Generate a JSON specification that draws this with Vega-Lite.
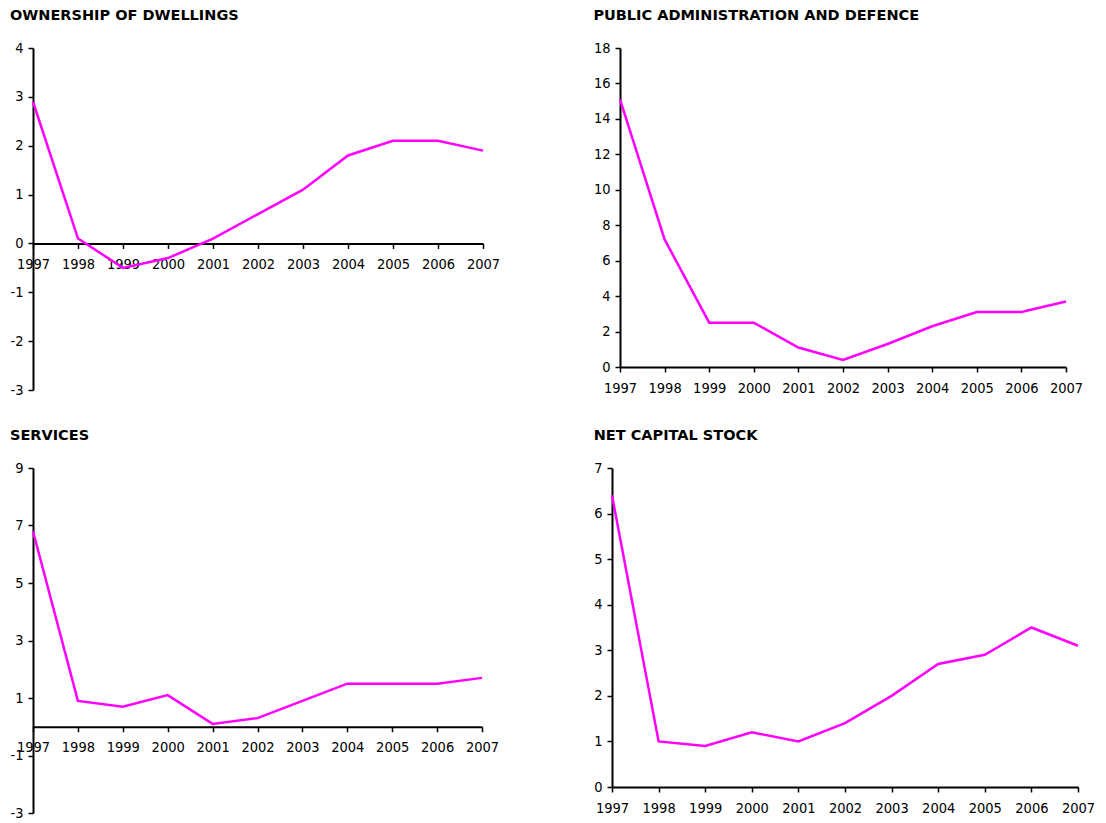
{
  "$schema": "https://vega.github.io/schema/vega-lite/v6.json",
  "padding": {"left": 9, "top": 7, "right": 5, "bottom": 5},
  "background": "white",
  "datasets": {
    "dwellings": [
      {"year": 1997, "value": 2.9}, {"year": 1998, "value": 0.1}, {"year": 1999, "value": -0.5},
      {"year": 2000, "value": -0.3}, {"year": 2001, "value": 0.1}, {"year": 2002, "value": 0.6},
      {"year": 2003, "value": 1.1}, {"year": 2004, "value": 1.8}, {"year": 2005, "value": 2.1},
      {"year": 2006, "value": 2.1}, {"year": 2007, "value": 1.9}
    ],
    "public": [
      {"year": 1997, "value": 15.1}, {"year": 1998, "value": 7.2}, {"year": 1999, "value": 2.5},
      {"year": 2000, "value": 2.5}, {"year": 2001, "value": 1.1}, {"year": 2002, "value": 0.4},
      {"year": 2003, "value": 1.3}, {"year": 2004, "value": 2.3}, {"year": 2005, "value": 3.1},
      {"year": 2006, "value": 3.1}, {"year": 2007, "value": 3.7}
    ],
    "services": [
      {"year": 1997, "value": 6.8}, {"year": 1998, "value": 0.9}, {"year": 1999, "value": 0.7},
      {"year": 2000, "value": 1.1}, {"year": 2001, "value": 0.1}, {"year": 2002, "value": 0.3},
      {"year": 2003, "value": 0.9}, {"year": 2004, "value": 1.5}, {"year": 2005, "value": 1.5},
      {"year": 2006, "value": 1.5}, {"year": 2007, "value": 1.7}
    ],
    "capital": [
      {"year": 1997, "value": 6.4}, {"year": 1998, "value": 1.0}, {"year": 1999, "value": 0.9},
      {"year": 2000, "value": 1.2}, {"year": 2001, "value": 1.0}, {"year": 2002, "value": 1.4},
      {"year": 2003, "value": 2.0}, {"year": 2004, "value": 2.7}, {"year": 2005, "value": 2.9},
      {"year": 2006, "value": 3.5}, {"year": 2007, "value": 3.1}
    ]
  },
  "columns": 2,
  "align": "none",
  "spacing": {"column": 93, "row": 30},
  "concat": [
    {
      "title": "OWNERSHIP OF DWELLINGS",
      "width": 450, "height": 342,
      "data": {"name": "dwellings"},
      "mark": "line",
      "encoding": {
        "x": {"field": "year", "type": "quantitative", "title": null,
              "scale": {"domain": [1997, 2007], "nice": false, "zero": false},
              "axis": {"values": [1997,1998,1999,2000,2001,2002,2003,2004,2005,2006,2007], "format": "d", "offset": -146.57}},
        "y": {"field": "value", "type": "quantitative", "title": null,
              "scale": {"domain": [-3, 4], "nice": false},
              "axis": {"values": [-3,-2,-1,0,1,2,3,4]}}
      }
    },
    {
      "title": "PUBLIC ADMINISTRATION AND DEFENCE",
      "width": 446, "height": 319,
      "data": {"name": "public"},
      "mark": "line",
      "encoding": {
        "x": {"field": "year", "type": "quantitative", "title": null,
              "scale": {"domain": [1997, 2007], "nice": false, "zero": false},
              "axis": {"values": [1997,1998,1999,2000,2001,2002,2003,2004,2005,2006,2007], "format": "d"}},
        "y": {"field": "value", "type": "quantitative", "title": null,
              "scale": {"domain": [0, 18], "nice": false},
              "axis": {"values": [0,2,4,6,8,10,12,14,16,18]}}
      }
    },
    {
      "title": "SERVICES",
      "width": 449, "height": 345,
      "data": {"name": "services"},
      "mark": "line",
      "encoding": {
        "x": {"field": "year", "type": "quantitative", "title": null,
              "scale": {"domain": [1997, 2007], "nice": false, "zero": false},
              "axis": {"values": [1997,1998,1999,2000,2001,2002,2003,2004,2005,2006,2007], "format": "d", "offset": -86.25}},
        "y": {"field": "value", "type": "quantitative", "title": null,
              "scale": {"domain": [-3, 9], "nice": false},
              "axis": {"values": [-3,-1,1,3,5,7,9]}}
      }
    },
    {
      "title": "NET CAPITAL STOCK",
      "width": 466, "height": 319,
      "data": {"name": "capital"},
      "mark": "line",
      "encoding": {
        "x": {"field": "year", "type": "quantitative", "title": null,
              "scale": {"domain": [1997, 2007], "nice": false, "zero": false},
              "axis": {"values": [1997,1998,1999,2000,2001,2002,2003,2004,2005,2006,2007], "format": "d"}},
        "y": {"field": "value", "type": "quantitative", "title": null,
              "scale": {"domain": [0, 7], "nice": false},
              "axis": {"values": [0,1,2,3,4,5,6,7]}}
      }
    }
  ],
  "config": {
    "view": {"stroke": null},
    "axis": {
      "domainColor": "black", "domainWidth": 2, "tickColor": "black", "tickWidth": 1.5, "tickSize": 5,
      "labelFont": "DejaVu Sans Condensed, DejaVu Sans", "labelFontSize": 14.5, "labelColor": "black", "grid": false,
      "labelFlush": false, "labelOverlap": false, "labelBound": false
    },
    "axisX": {"labelPadding": 9},
    "axisY": {"labelPadding": 5, "labelExpr": "replace(datum.label, '\u2212', '-')"},
    "title": {"font": "DejaVu Sans", "fontSize": 14.5, "fontWeight": "bold", "anchor": "start", "frame": "bounds", "color": "black", "offset": 17},
    "line": {"color": "#FF00FF", "strokeWidth": 2.5}
  }
}
